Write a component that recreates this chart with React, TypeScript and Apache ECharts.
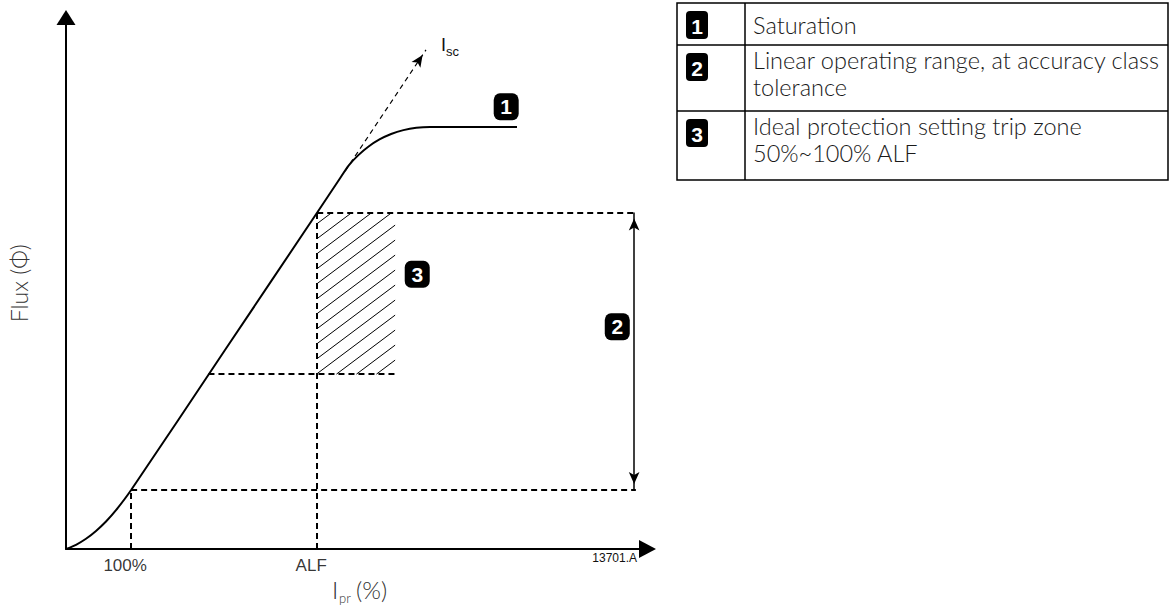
import React, { useEffect, useRef } from "react";
import * as echarts from "echarts";

// ---- Data (arbitrary units: primary current along x, flux along y) ----
const X_MAX = 100;
const Y_MAX = 100;

// Magnetisation curve of the current transformer
const curveCurrent = [0, 1.72, 3.44, 5.16, 6.88, 8.6, 11.2, 27.2, 43.2, 47.1, 48.63, 50.28, 52.04, 53.91, 55.91, 58.02, 60.24, 62.6, 77.56];
const curveFlux = [0, 0.79, 1.92, 3.39, 5.17, 7.3, 11.1, 37.2, 63.3, 69.7, 72.19, 74.11, 75.73, 77.05, 78.08, 78.81, 79.25, 79.4, 79.4];

// Short-circuit extension (I_sc)
const iscCurrent = [48.0, 61.9];
const iscFlux = [71.1, 93.9];

// Tick labels on the current axis and flux reached at each
const tickLabels = ["100%", "ALF"];
const tickCurrent = [11.2, 43.2];
const tickFlux = [11.1, 63.3];

// Ideal trip zone (hatched): current range and flux range
const zoneCurrent = [43.2, 56.6];
const zoneFlux = [32.9, 63.3];
const zoneStartCurrent = 24.5; // curve current at zone lower flux

// Linear operating range arrow
const rangeCurrent = 97.7;
const guideEndCurrent = 98.0;

// Numbered callouts
const markerLabels = ["1", "2", "3"];
const markerCurrent = [75.7, 94.8, 60.4];
const markerFlux = [83.2, 41.8, 51.7];

// Legend table
const legendNumbers = ["1", "2", "3"];
const legendTexts = [
  ["Saturation"],
  ["Linear operating range, at accuracy class", "tolerance"],
  ["Ideal protection setting trip zone", "50%~100% ALF"],
];

const figureCode = "13701.A";

const GILL = "Lato, 'Open Sans', sans-serif";
const ARIAL = "Arial, 'Liberation Sans', sans-serif";

export default function App() {
  const ref = useRef<HTMLDivElement>(null);

  useEffect(() => {
    if (!ref.current) return;
    const chart = echarts.init(ref.current, null, { renderer: "svg" });

    const dash = { type: [6, 4] as any, width: 2, color: "#000" };
    const guides: any[] = [
      [{ coord: [tickCurrent[1], 0] }, { coord: [tickCurrent[1], tickFlux[1]] }],
      [{ coord: [tickCurrent[1], tickFlux[1]] }, { coord: [guideEndCurrent, tickFlux[1]] }],
      [{ coord: [tickCurrent[0], 0] }, { coord: [tickCurrent[0], tickFlux[0]] }],
      [{ coord: [tickCurrent[0], tickFlux[0]] }, { coord: [guideEndCurrent, tickFlux[0]] }],
      [{ coord: [zoneStartCurrent, zoneFlux[0]] }, { coord: [zoneCurrent[1], zoneFlux[0]] }],
    ];
    const lines: any[] = guides.map((g) => [
      { ...g[0], symbol: "none" },
      { ...g[1], symbol: "none", lineStyle: dash },
    ]);
    lines.push([
      { coord: [iscCurrent[0], iscFlux[0]], symbol: "none" },
      {
        coord: [iscCurrent[1], iscFlux[1]],
        symbol: "arrow",
        symbolSize: [8, 12],
        symbolOffset: [0, 6],
        lineStyle: { type: [5, 4], width: 1.2, color: "#000" },
      },
    ]);
    lines.push([
      { coord: [rangeCurrent, tickFlux[1]], symbol: "arrow", symbolSize: [8, 12], symbolOffset: [0, 6] },
      {
        coord: [rangeCurrent, tickFlux[0]],
        symbol: "arrow",
        symbolSize: [8, 12],
        symbolOffset: [0, 6],
        lineStyle: { type: "solid", width: 1.5, color: "#000" },
      },
    ]);

    const tableX0 = 677;
    const tableX1 = 1168;
    const colX = 745;
    const rowY = [3, 45, 111, 180];
    const graphics: any[] = [
      {
        type: "rect",
        shape: { x: tableX0, y: rowY[0], width: tableX1 - tableX0, height: rowY[3] - rowY[0] },
        style: { fill: "none", stroke: "#000", lineWidth: 1.5 },
      },
      { type: "line", shape: { x1: colX, y1: rowY[0], x2: colX, y2: rowY[3] }, style: { stroke: "#000", lineWidth: 1.5 } },
      { type: "line", shape: { x1: tableX0, y1: rowY[1], x2: tableX1, y2: rowY[1] }, style: { stroke: "#000", lineWidth: 1.5 } },
      { type: "line", shape: { x1: tableX0, y1: rowY[2], x2: tableX1, y2: rowY[2] }, style: { stroke: "#000", lineWidth: 1.5 } },
    ];
    legendNumbers.forEach((n, i) => {
      const cy = rowY[i] + 22;
      graphics.push({
        type: "rect",
        shape: { x: 686, y: cy - 14, width: 22, height: 28, r: 4 },
        style: { fill: "#000" },
      });
      graphics.push({
        type: "text",
        x: 697,
        y: cy + 1,
        style: { text: n, fill: "#fff", font: `bold 21px ${ARIAL}`, align: "center", verticalAlign: "middle" },
      });
      const ls = legendTexts[i];
      ls.forEach((t, j) => {
        const y = ls.length === 1 ? rowY[i] + 22 : rowY[i] + 15 + j * 27;
        graphics.push({
          type: "text",
          x: 753,
          y,
          style: { text: t, fill: "#1a1a1a", font: `300 23.5px ${GILL}`, align: "left", verticalAlign: "middle" },
        });
      });
    });
    graphics.push({ type: "text", x: 441, y: 45, style: { text: "I", fill: "#111", font: `18px ${ARIAL}`, align: "left", verticalAlign: "middle" } });
    graphics.push({ type: "text", x: 446, y: 51, style: { text: "sc", fill: "#111", font: `13px ${ARIAL}`, align: "left", verticalAlign: "middle" } });
    graphics.push({ type: "text", x: 332, y: 589, style: { text: "I", fill: "#333", font: `300 24px ${GILL}`, align: "left", verticalAlign: "middle" } });
    graphics.push({ type: "text", x: 339, y: 598, style: { text: "pr", fill: "#333", font: `300 13px ${GILL}`, align: "left", verticalAlign: "middle" } });
    graphics.push({ type: "text", x: 356, y: 589, style: { text: "(%)", fill: "#333", font: `300 24px ${GILL}`, align: "left", verticalAlign: "middle" } });
    graphics.push({ type: "text", x: 637, y: 558, style: { text: figureCode, fill: "#111", font: `12px ${ARIAL}`, align: "right", verticalAlign: "middle" } });

    const option: any = {
      animation: false,
      backgroundColor: "#fff",
      grid: { left: 66, right: 521.5, top: 17.5, bottom: 58, containLabel: false },
      xAxis: {
        type: "value",
        min: 0,
        max: X_MAX,
        axisLine: {
          show: true,
          lineStyle: { color: "#000", width: 2 },
          symbol: ["none", "triangle"],
          symbolSize: [18, 17],
        },
        axisTick: { show: false },
        axisLabel: { show: false },
        splitLine: { show: false },
      },
      yAxis: {
        type: "value",
        min: 0,
        max: Y_MAX,
        name: "Flux (Φ)",
        nameLocation: "middle",
        nameRotate: 90,
        nameGap: 36,
        nameTextStyle: { fontFamily: GILL, fontSize: 23, fontWeight: 300, color: "#333" },
        axisLine: {
          show: true,
          lineStyle: { color: "#000", width: 2 },
          symbol: ["none", "triangle"],
          symbolSize: [19, 15],
        },
        axisTick: { show: false },
        axisLabel: { show: false },
        splitLine: { show: false },
      },
      series: [
        {
          type: "line",
          data: curveCurrent.map((x, i) => [x, curveFlux[i]]),
          smooth: 0.3,
          showSymbol: false,
          lineStyle: { color: "#000", width: 2 },
          silent: true,
          z: 5,
          markLine: {
            silent: true,
            animation: false,
            label: { show: false },
            lineStyle: dash,
            data: lines,
          },
        },
        {
          type: "custom",
          data: [[zoneCurrent[0], zoneCurrent[1], zoneFlux[0], zoneFlux[1]]],
          encode: { x: [0, 1], y: [2, 3] },
          silent: true,
          renderItem: (params: any, api: any) => {
            const tl = api.coord([api.value(0), api.value(3)]);
            const br = api.coord([api.value(1), api.value(2)]);
            const L = tl[0], T = tl[1], R = br[0], B = br[1];
            const k = 0.75;
            const step = 15;
            const children: any[] = [];
            for (let c = T + 11; c < B + k * (R - L); c += step) {
              let x1, y1, x2, y2;
              if (c <= B) { x1 = L; y1 = c; } else { x1 = L + (c - B) / k; y1 = B; }
              const xt = L + (c - T) / k;
              if (xt <= R) { x2 = xt; y2 = T; } else { x2 = R; y2 = c - k * (R - L); }
              if (x2 - x1 > 1) {
                children.push({ type: "line", shape: { x1, y1, x2, y2 }, style: { stroke: "#000", lineWidth: 1 } });
              }
            }
            return { type: "group", children };
          },
        },
        {
          type: "scatter",
          data: tickCurrent.map((x, i) => ({ value: [x, 0], name: tickLabels[i] })),
          symbolSize: 0,
          silent: true,
          label: {
            show: true,
            position: "bottom",
            distance: 8,
            formatter: "{b}",
            fontFamily: ARIAL,
            fontSize: 17,
            color: "#000",
            offset: [-6, 0],
          },
        },
        {
          type: "scatter",
          data: markerCurrent.map((x, i) => ({ value: [x, markerFlux[i]], name: markerLabels[i] })),
          symbol: "roundRect",
          symbolSize: [25, 27],
          itemStyle: { color: "#000", opacity: 1 },
          silent: true,
          label: {
            show: true,
            position: "inside",
            formatter: "{b}",
            fontFamily: ARIAL,
            fontWeight: "bold",
            fontSize: 21,
            color: "#fff",
          },
        },
      ],
      graphic: graphics,
    };
    chart.setOption(option);
    return () => chart.dispose();
  }, []);

  return (
    <div
      ref={ref}
      style={{ position: "fixed", left: 0, top: 0, width: 1169, height: 607, background: "#fff" }}
    />
  );
}
